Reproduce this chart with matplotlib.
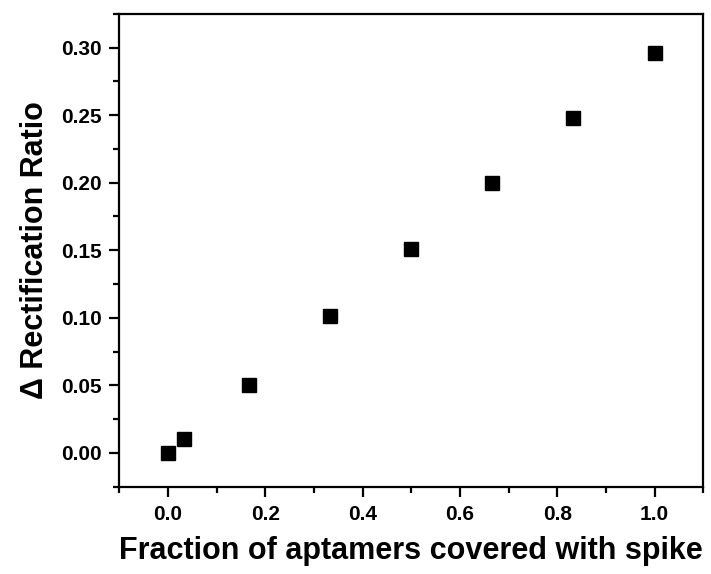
import matplotlib.pyplot as plt
from matplotlib.ticker import MultipleLocator

plt.rcParams['font.family'] = ['Liberation Sans', 'DejaVu Sans']
plt.rcParams['font.weight'] = 'bold'

fraction = [0.0, 1/30, 1/6, 1/3, 0.5, 2/3, 5/6, 1.0]
delta_rr = [0.0, 0.010, 0.050, 0.101, 0.151, 0.200, 0.248, 0.296]

fig = plt.figure(figsize=(7.11, 5.74), dpi=100)
ax = fig.add_axes([0.168, 0.152, 0.821, 0.824])

ax.plot(fraction, delta_rr, 's', color='black', markersize=10, linestyle='none')

ax.set_xlim(-0.1, 1.1)
ax.set_ylim(-0.025, 0.325)
ax.xaxis.set_major_locator(MultipleLocator(0.2))
ax.xaxis.set_minor_locator(MultipleLocator(0.1))
ax.yaxis.set_major_locator(MultipleLocator(0.05))
ax.yaxis.set_minor_locator(MultipleLocator(0.025))
ax.xaxis.set_major_formatter(plt.FormatStrFormatter('%.1f'))
ax.yaxis.set_major_formatter(plt.FormatStrFormatter('%.2f'))

for s in ax.spines.values():
    s.set_linewidth(1.6)
ax.tick_params(which='major', direction='out', length=7, width=1.6, labelsize=15, pad=6)
ax.tick_params(which='minor', direction='out', length=4, width=1.6)

ax.set_xlabel('Fraction of aptamers covered with spike', fontsize=22, fontweight='bold', labelpad=9)
ax.set_ylabel('Δ Rectification Ratio', fontsize=22, fontweight='bold', labelpad=8)

fig.savefig('out.png', dpi=100)
